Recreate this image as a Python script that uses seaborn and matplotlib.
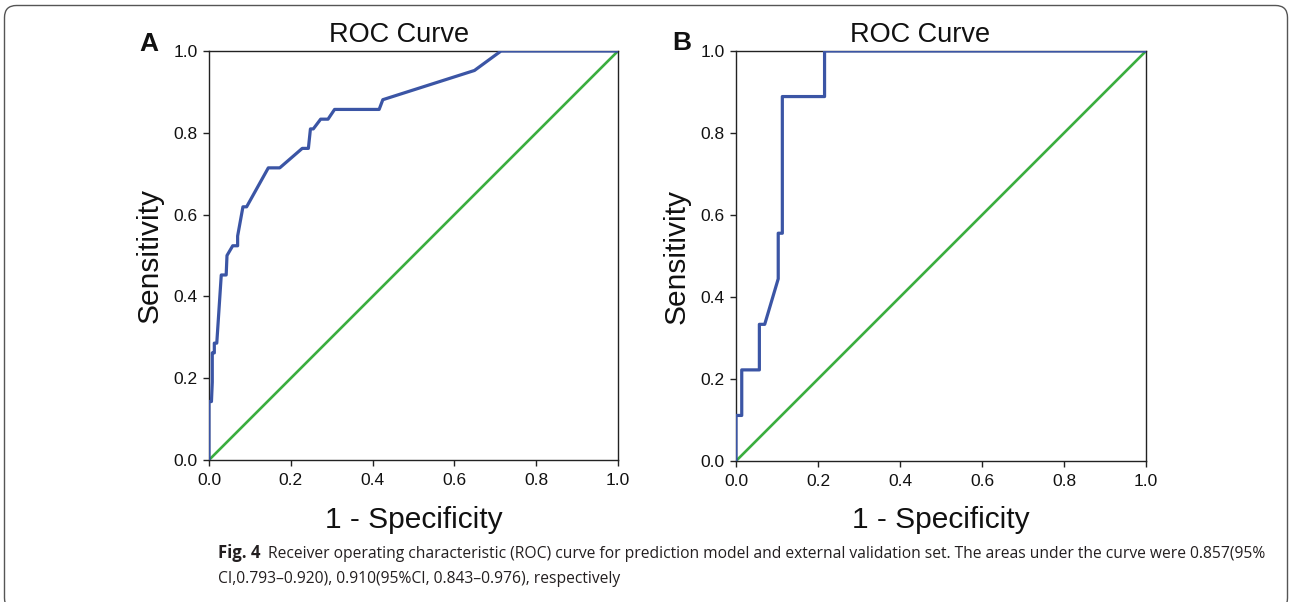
import numpy as np
import matplotlib
matplotlib.use('Agg')
import matplotlib.pyplot as plt
import pandas as pd
import seaborn as sns
from matplotlib.patches import FancyBboxPatch
from matplotlib import font_manager

# ROC points (1 - specificity, sensitivity)
fpr_a = [0, 0, 0.006, 0.008, 0.008, 0.013, 0.013, 0.019, 0.030, 0.042, 0.044, 0.058,
         0.070, 0.070, 0.083, 0.092, 0.145, 0.173, 0.228, 0.243, 0.248, 0.255, 0.273,
         0.291, 0.307, 0.416, 0.425, 0.649, 0.714, 1.0]
tpr_a = [0, 6/42, 6/42, 8/42, 11/42, 11/42, 12/42, 12/42, 19/42, 19/42, 21/42, 22/42,
         22/42, 23/42, 26/42, 26/42, 30/42, 30/42, 32/42, 32/42, 34/42, 34/42, 35/42,
         35/42, 36/42, 36/42, 37/42, 40/42, 1.0, 1.0]

fpr_b = [0, 0, 0.014, 0.014, 0.057, 0.057, 0.070, 0.103, 0.103, 0.113, 0.113, 0.216, 0.216, 1.0]
tpr_b = [0, 1/9, 1/9, 2/9, 2/9, 3/9, 3/9, 4/9, 5/9, 5/9, 8/9, 8/9, 1.0, 1.0]

ref_line = [0.0, 1.0]
ticks = [0.0, 0.2, 0.4, 0.6, 0.8, 1.0]
tick_labels = ['0.0', '0.2', '0.4', '0.6', '0.8', '1.0']
panel_names = ['A', 'B']

caption_bold = 'Fig. 4'
caption_1 = ('Receiver operating characteristic (ROC) curve for prediction model and external '
             'validation set. The areas under the curve were 0.857(95%')
caption_2 = 'CI,0.793\u20130.920), 0.910(95%CI, 0.843\u20130.976), respectively'

sns.set_style('ticks')
plt.rcParams['font.family'] = ['Liberation Sans', 'DejaVu Sans']

W, H = 1290, 602
fig = plt.figure(figsize=(W / 100, H / 100), dpi=100)

blue = '#3b55a5'
green = '#3bae3f'

# axes boxes in pixels: left, top, right, bottom
boxes = [(209, 51, 618, 460), (736, 51, 1146, 461)]
curves = [(fpr_a, tpr_a), (fpr_b, tpr_b)]
title_x = [399, 920]
letter_x = [149, 682]
letter_base = [51, 50]
ylabel_x = [150, 677]

for i, (l, t, r, b) in enumerate(boxes):
    ax = fig.add_axes([l / W, 1 - b / H, (r - l) / W, (b - t) / H])
    df = pd.DataFrame({'fpr': curves[i][0], 'tpr': curves[i][1]})
    sns.lineplot(data=df, x='fpr', y='tpr', sort=False, estimator=None,
                 color=blue, lw=2.3, ax=ax, zorder=3)
    sns.lineplot(x=ref_line, y=ref_line, color=green, lw=1.9, ax=ax, zorder=2)
    ax.set_xlim(0, 1)
    ax.set_ylim(0, 1)
    ax.set_xticks(ticks)
    ax.set_yticks(ticks)
    ax.set_xticklabels(tick_labels, fontsize=12.5)
    ax.set_yticklabels(tick_labels, fontsize=12.5)
    ax.tick_params(direction='out', length=4.5, width=1.0, color='#222222',
                   labelcolor='#111111', pad=5)
    ax.tick_params(axis='y', pad=3.5)
    ax.set_xlabel('')
    ax.set_ylabel('')
    for s in ax.spines.values():
        s.set_linewidth(1.0)
        s.set_color('#222222')
        s.set_visible(True)
    ax.patch.set_alpha(0)

    cx = (l + r) / 2
    fig.text(cx / W, 1 - 528 / H, '1 - Specificity', fontsize=21.5, ha='center',
             va='baseline', color='#111111')
    fig.text(ylabel_x[i] / W, 1 - ((t + b) / 2) / H, 'Sensitivity', fontsize=21.5,
             rotation=90, ha='center', va='center', color='#111111')
    fig.text(title_x[i] / W, 1 - 42 / H, 'ROC Curve', fontsize=19.5, ha='center',
             va='baseline', color='#111111')
    fig.text(letter_x[i] / W, 1 - letter_base[i] / H, panel_names[i], fontsize=19,
             fontweight='bold', ha='center', va='baseline', color='#111111')

# caption: use a narrow face when available
names = {f.name for f in font_manager.fontManager.ttflist}
if 'Liberation Sans Narrow' in names:
    cap_font, cap_size = ['Liberation Sans Narrow', 'DejaVu Sans'], 13
else:
    cap_font, cap_size = ['Open Sans', 'DejaVu Sans'], 11.5

t0 = fig.text(218 / W, 1 - 558 / H, caption_bold, fontsize=cap_size + 0.5, fontweight='bold',
              family=cap_font, color='#231f20', va='baseline')
renderer = fig.canvas.get_renderer()
bb = t0.get_window_extent(renderer)
t1 = fig.text((bb.x1 + 7) / W, 1 - 558 / H, caption_1, fontsize=cap_size, family=cap_font,
              color='#231f20', va='baseline')
# squeeze if the first line still runs past the reference right edge
bb1 = t1.get_window_extent(renderer)
if bb1.x1 > 1270:
    scale = (1268 - bb1.x0) / (bb1.x1 - bb1.x0)
    cap_size = cap_size * scale
    t1.set_fontsize(cap_size)
fig.text(218 / W, 1 - 583 / H, caption_2, fontsize=cap_size, family=cap_font,
         color='#231f20', va='baseline')

# rounded frame around the whole figure
frame = FancyBboxPatch((4.5, -8), 1283, 602 - 5.5 + 8,
                       boxstyle='round,pad=0,rounding_size=12',
                       transform=None, fill=False, edgecolor='#555555', lw=1.0)
fig.patches.append(frame)

plt.savefig('out.png', dpi=100)
